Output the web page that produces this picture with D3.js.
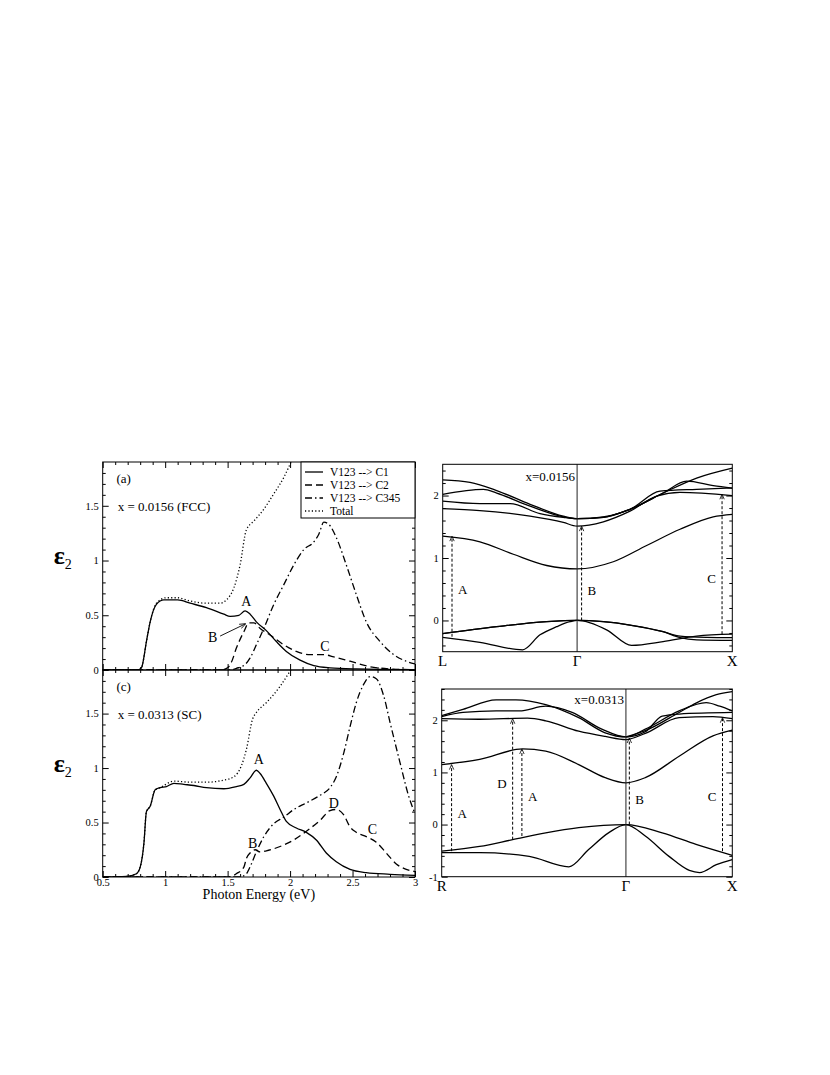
<!DOCTYPE html>
<html>
<head>
<meta charset="utf-8">
<script src="https://cdn.jsdelivr.net/npm/d3@7"></script>
<style>
body { margin: 0; background: #fff; }
svg text { font-family: "Liberation Serif", "Times New Roman", serif; fill: #000; }
</style>
</head>
<body>
<svg id="fig" width="830" height="1075" font-family="Liberation Serif, serif"></svg>
<script>
// ---- eps2 spectra, [photon energy (eV), eps2] ----
// panel (a): x = 0.0156 (FCC)
var a_c1 = [[0.5,0],[0.78,0],[0.81,0.02],[0.85,0.26],[0.88,0.44],[0.93,0.60],[0.99,0.64],[1.10,0.64],[1.20,0.61],[1.33,0.57],[1.47,0.51],[1.52,0.49],[1.59,0.50],[1.64,0.54],[1.68,0.51],[1.73,0.44],[1.81,0.36],[1.89,0.26],[1.97,0.17],[2.08,0.09],[2.19,0.04],[2.32,0.02],[2.53,0.01],[3.0,0.003]];
var a_c2 = [[0.5,0],[1.45,0],[1.50,0.02],[1.53,0.07],[1.57,0.20],[1.63,0.35],[1.67,0.43],[1.71,0.43],[1.76,0.38],[1.84,0.32],[1.95,0.23],[2.05,0.17],[2.16,0.14],[2.27,0.14],[2.35,0.12],[2.48,0.08],[2.64,0.03],[2.8,0.01],[3.0,0.003]];
var a_c345 = [[0.5,0],[1.52,0],[1.57,0.015],[1.64,0.05],[1.68,0.11],[1.73,0.23],[1.79,0.38],[1.87,0.60],[1.95,0.78],[2.03,0.96],[2.11,1.10],[2.19,1.17],[2.23,1.24],[2.27,1.35],[2.31,1.33],[2.37,1.21],[2.45,0.96],[2.53,0.69],[2.61,0.44],[2.72,0.26],[2.83,0.14],[2.93,0.08],[3.0,0.055]];
var a_tot = [[0.5,0],[0.78,0],[0.81,0.02],[0.85,0.26],[0.88,0.44],[0.93,0.61],[1.01,0.66],[1.10,0.66],[1.20,0.63],[1.33,0.61],[1.44,0.61],[1.49,0.64],[1.55,0.75],[1.60,0.96],[1.65,1.28],[1.71,1.36],[1.79,1.47],[1.87,1.61],[1.95,1.76],[2.0,1.88],[2.05,2.0]];
// panel (c): x = 0.0313 (SC)
var c_c1 = [[0.5,0],[0.69,0.005],[0.77,0.03],[0.80,0.09],[0.83,0.31],[0.85,0.60],[0.88,0.65],[0.92,0.80],[0.96,0.82],[1.01,0.83],[1.07,0.86],[1.15,0.85],[1.23,0.84],[1.33,0.82],[1.47,0.81],[1.57,0.83],[1.63,0.85],[1.68,0.91],[1.73,0.98],[1.76,0.95],[1.81,0.86],[1.87,0.74],[1.92,0.62],[1.97,0.51],[2.05,0.45],[2.13,0.41],[2.21,0.34],[2.29,0.22],[2.37,0.14],[2.48,0.07],[2.61,0.04],[2.80,0.025],[3.0,0.015]];
var c_c2 = [[0.5,0],[1.52,0],[1.57,0.03],[1.63,0.09],[1.65,0.17],[1.68,0.22],[1.72,0.25],[1.76,0.23],[1.81,0.24],[1.92,0.28],[2.03,0.34],[2.13,0.42],[2.24,0.52],[2.32,0.61],[2.37,0.62],[2.43,0.57],[2.48,0.46],[2.53,0.41],[2.61,0.37],[2.69,0.32],[2.77,0.22],[2.85,0.12],[2.93,0.07],[3.0,0.05]];
var c_c345 = [[0.5,0],[1.6,0],[1.65,0.03],[1.69,0.12],[1.73,0.23],[1.79,0.37],[1.87,0.49],[1.95,0.55],[2.03,0.62],[2.13,0.68],[2.24,0.75],[2.32,0.82],[2.37,0.92],[2.43,1.14],[2.48,1.38],[2.53,1.60],[2.59,1.77],[2.64,1.84],[2.69,1.82],[2.75,1.66],[2.80,1.42],[2.88,1.05],[2.95,0.74],[3.0,0.58]];
var c_tot = [[0.5,0],[0.69,0.005],[0.77,0.03],[0.80,0.09],[0.83,0.31],[0.85,0.60],[0.88,0.65],[0.92,0.80],[0.96,0.82],[1.07,0.88],[1.20,0.87],[1.33,0.87],[1.47,0.89],[1.55,0.92],[1.61,1.02],[1.65,1.17],[1.70,1.45],[1.73,1.51],[1.81,1.60],[1.92,1.75],[2.0,1.89],[2.05,1.98]];

var legend_names = ["V123 --> C1", "V123 --> C2", "V123 --> C345", "Total"];
var energy_ticks = [0.5, 1, 1.5, 2, 2.5, 3];
var eps_ticks = [0, 0.5, 1, 1.5];

// ---- band structures, [k along path, E (eV)] ----
// FCC: L (0) -> Gamma (0.866) -> X (1.866)
var fcc_kpts = [0, 0.866, 1.866];
var fcc_klabels = ["L", "\u0393", "X"];
var fcc_bands = [
  [[0,-0.21],[0.348,-0.10],[0.67,-0.02],[0.866,0],[1.035,-0.02],[1.207,-0.074],[1.42,-0.18],[1.53,-0.275],[1.636,-0.31],[1.866,-0.32]],
  [[0,-0.27],[0.24,-0.35],[0.515,-0.47],[0.627,-0.23],[0.734,-0.10],[0.82,-0.02],[0.866,0],[0.95,-0.037],[1.056,-0.15],[1.217,-0.40],[1.42,-0.34],[1.636,-0.25],[1.866,-0.22]],
  [[0,-0.21],[0.348,-0.10],[0.67,-0.02],[0.866,0],[1.035,-0.02],[1.207,-0.074],[1.42,-0.18],[1.53,-0.25],[1.70,-0.27],[1.866,-0.275]],
  [[0,1.35],[0.24,1.26],[0.455,1.06],[0.67,0.88],[0.866,0.825],[1.099,0.94],[1.314,1.20],[1.529,1.46],[1.743,1.66],[1.866,1.70]],
  [[0,1.79],[0.24,1.76],[0.563,1.67],[0.777,1.57],[0.866,1.51],[1.035,1.58],[1.207,1.75],[1.378,1.99],[1.529,2.05],[1.866,2.0]],
  [[0,1.91],[0.24,1.87],[0.434,1.87],[0.627,1.71],[0.777,1.65],[0.866,1.63],[1.035,1.66],[1.207,1.78],[1.40,2.07],[1.636,2.10],[1.866,2.12]],
  [[0,2.02],[0.262,2.10],[0.348,2.04],[0.563,1.83],[0.777,1.66],[0.866,1.63],[1.035,1.65],[1.207,1.78],[1.42,2.04],[1.572,2.23],[1.743,2.16],[1.866,2.12]],
  [[0,2.25],[0.176,2.21],[0.348,2.08],[0.563,1.86],[0.777,1.67],[0.866,1.63],[1.035,1.65],[1.207,1.78],[1.42,2.04],[1.636,2.28],[1.866,2.44]]
];
// transitions: [k, E from, E to, label, label side]
var fcc_arrows = [[0.06,-0.26,1.35,"A",1],[0.895,0,1.51,"B",1],[1.80,-0.22,2.02,"C",-1]];
var fcc_label_y = [0.49, 0.48, 0.67];

// SC: R (0) -> Gamma (1.732) -> X (2.732)
var sc_kpts = [0, 1.732, 2.732];
var sc_klabels = ["R", "\u0393", "X"];
var sc_bands = [
  [[0,-0.51],[0.357,-0.42],[0.667,-0.29],[0.978,-0.16],[1.288,-0.06],[1.732,0],[2.073,-0.16],[2.391,-0.38],[2.732,-0.59]],
  [[0,-0.54],[0.357,-0.54],[0.823,-0.61],[1.195,-0.81],[1.381,-0.48],[1.568,-0.16],[1.732,0],[1.914,-0.22],[2.137,-0.61],[2.328,-0.88],[2.424,-0.92],[2.582,-0.77],[2.732,-0.67]],
  [[0,1.15],[0.357,1.25],[0.760,1.45],[0.978,1.41],[1.288,1.15],[1.537,0.90],[1.732,0.80],[1.914,0.90],[2.232,1.31],[2.55,1.70],[2.732,1.81]],
  [[0,2.03],[0.357,2.02],[0.807,2.04],[0.978,1.99],[1.288,1.79],[1.537,1.69],[1.732,1.63],[1.914,1.75],[2.232,2.05],[2.55,2.07],[2.732,2.03]],
  [[0,2.07],[0.2,2.15],[0.512,2.18],[0.73,2.18],[0.978,2.27],[1.226,2.15],[1.505,1.83],[1.732,1.68],[1.914,1.78],[2.073,2.08],[2.232,2.12],[2.732,2.15]],
  [[0,2.09],[0.2,2.21],[0.512,2.39],[0.698,2.39],[0.978,2.30],[1.288,2.05],[1.537,1.76],[1.732,1.68],[1.914,1.83],[2.232,2.18],[2.487,2.34],[2.614,2.27],[2.732,2.18]],
  [[1.732,1.68],[1.914,1.80],[2.232,2.15],[2.391,2.33],[2.582,2.49],[2.732,2.55]]
];
var sc_arrows = [[0.093,-0.51,1.15,"A",1],[0.667,-0.29,2.03,"D",-1],[0.754,-0.22,1.45,"A",1],[1.764,0,1.66,"B",1],[2.64,-0.51,2.05,"C",-1]];
var sc_label_y = [0.22, 0.79, 0.54, 0.49, 0.54];

var serif = "Liberation Serif, Times New Roman, serif";
var svg = d3.select("#fig");
svg.append("rect").attr("width", 830).attr("height", 1075).attr("fill", "#fff");

var styles = [
  {dash: null},
  {dash: "7,4"},
  {dash: "7,3,1.5,3"},
  {dash: "1.2,2.2"}
];

// draws one framed box with inward ticks on all four sides
function draw_frame(g, xs, ys, o)
{
	var w = xs.range()[1], h = ys.range()[0];

	function put(axis, tx, ty, vals, size, fmt, pad)
	{
		axis.tickValues(vals).tickSizeInner(-size).tickSizeOuter(0).tickPadding(pad || 4)
			.tickFormat(fmt ? fmt : "");
		var a = g.append("g").attr("transform", "translate(" + tx + "," + ty + ")").call(axis);
		a.select(".domain").remove();
		a.attr("font-family", serif).attr("font-size", 10.5);
		a.selectAll("line").attr("stroke", "#000");
	}
	if (o.xMajor) {
		put(d3.axisBottom(xs), 0, h, o.xMinor, 3, null);
		put(d3.axisBottom(xs), 0, h, o.xMajor, 6, o.xLabels ? function(d){ return d; } : null, 2);
		put(d3.axisTop(xs), 0, 0, o.xMinor, 3, null);
		put(d3.axisTop(xs), 0, 0, o.xMajor, 6, null);
	}
	put(d3.axisLeft(ys), 0, 0, o.yMinor, 3, null);
	put(d3.axisLeft(ys), 0, 0, o.yMajor, 6, function(d){ return d; });
	put(d3.axisRight(ys), w, 0, o.yMinor, 3, null);
	put(d3.axisRight(ys), w, 0, o.yMajor, 6, null);

	g.append("rect").attr("width", w).attr("height", h)
		.attr("fill", "none").attr("stroke", "#000").attr("stroke-width", 1);
}

// ---- left: eps2 panels ----
function draw_spectrum(id, left, top, w, h, series, tag, title, notes, showX)
{
	var g = svg.append("g").attr("transform", "translate(" + left + "," + top + ")");
	var xs = d3.scaleLinear().domain([0.5, 3]).range([0, w]);
	var ys = d3.scaleLinear().domain([0, 1.9]).range([h, 0]);

	g.append("clipPath").attr("id", id).append("rect").attr("width", w).attr("height", h);

	var line = d3.line().x(function(d){ return xs(d[0]); }).y(function(d){ return ys(d[1]); })
		.curve(d3.curveMonotoneX);

	var plot = g.append("g").attr("clip-path", "url(#" + id + ")");
	series.forEach(function(s, i) {
		plot.append("path").attr("d", line(s)).attr("fill", "none")
			.attr("stroke", "#000").attr("stroke-width", 1.3)
			.attr("stroke-dasharray", styles[i].dash);
	});

	draw_frame(g, xs, ys, {
		xMajor: energy_ticks, xMinor: d3.range(0.6, 3, 0.1).filter(function(v){ return Math.abs(v*2 - Math.round(v*2)) > 0.01; }),
		yMajor: eps_ticks, yMinor: d3.range(0.1, 1.9, 0.1).filter(function(v){ return Math.abs(v*2 - Math.round(v*2)) > 0.01; }),
		xLabels: showX
	});

	g.append("text").attr("x", xs(0.61)).attr("y", ys(1.75)).attr("dy", "0.35em")
		.attr("font-family", serif).attr("font-size", 13).text(tag);
	g.append("text").attr("x", xs(0.62)).attr("y", ys(1.49)).attr("dy", "0.35em")
		.attr("font-family", serif).attr("font-size", 13).text(title);

	notes.forEach(function(n) {
		g.append("text").attr("x", xs(n[0])).attr("y", ys(n[1])).attr("dy", "0.35em")
			.attr("text-anchor", "middle").attr("font-family", serif).attr("font-size", 14).text(n[2]);
	});

	var eps = g.append("text").attr("x", -49).attr("y", h/2 - 2).attr("font-family", serif)
		.attr("font-size", 26).attr("font-weight", "bold");
	eps.append("tspan").text("\u03b5");
	eps.append("tspan").attr("font-size", 14).attr("font-weight", "normal").attr("dy", 5).text("2");

	return {g: g, xs: xs, ys: ys};
}

var top_panel = draw_spectrum("clipA", 102.7, 462, 312.3, 208, [a_c1, a_c2, a_c345, a_tot],
	"(a)", "x = 0.0156 (FCC)", [[1.65, 0.63, "A"], [1.38, 0.30, "B"], [2.28, 0.22, "C"]], false);
var bot_panel = draw_spectrum("clipC", 102.7, 670, 312.3, 207, [c_c1, c_c2, c_c345, c_tot],
	"(c)", "x = 0.0313 (SC)", [[1.75, 1.085, "A"], [1.70, 0.31, "B"], [2.35, 0.68, "D"], [2.66, 0.44, "C"]], true);

// arrow pointing at peak B in (a)
svg.append("defs").append("marker").attr("id", "head")
	.attr("viewBox", "0 -4 8 8").attr("refX", 7).attr("refY", 0)
	.attr("markerWidth", 7).attr("markerHeight", 7).attr("orient", "auto")
	.append("path").attr("d", "M0,-3L8,0L0,3").attr("fill", "none").attr("stroke", "#000");
top_panel.g.append("line")
	.attr("x1", top_panel.xs(1.44)).attr("y1", top_panel.ys(0.31))
	.attr("x2", top_panel.xs(1.64)).attr("y2", top_panel.ys(0.42))
	.attr("stroke", "#000").attr("stroke-width", 0.9).attr("marker-end", "url(#head)");

bot_panel.g.append("text").attr("x", 312.3/2).attr("y", 229).attr("text-anchor", "middle")
	.attr("font-family", serif).attr("font-size", 14).text("Photon Energy (eV)");

// legend
var lg = top_panel.g.append("g").attr("transform", "translate(198.3,0)");
lg.append("rect").attr("width", 114).attr("height", 56).attr("fill", "#fff")
	.attr("stroke", "#000").attr("stroke-width", 1);
legend_names.forEach(function(name, i) {
	var y = 10 + i * 13;
	lg.append("line").attr("x1", 4).attr("x2", 22).attr("y1", y).attr("y2", y)
		.attr("stroke", "#000").attr("stroke-width", 1.3).attr("stroke-dasharray", styles[i].dash);
	lg.append("text").attr("x", 29).attr("y", y).attr("dy", "0.35em")
		.attr("font-family", serif).attr("font-size", 11.5).text(name);
});

// ---- right: band structures ----
function draw_bands(id, left, top, w, h, kpts, klabels, ydom, yMajor, bands, arrows, labelY, note, noteY)
{
	var g = svg.append("g").attr("transform", "translate(" + left + "," + top + ")");
	var xs = d3.scaleLinear().domain([kpts[0], kpts[2]]).range([0, w]);
	var ys = d3.scaleLinear().domain(ydom).range([h, 0]);

	g.append("clipPath").attr("id", id).append("rect").attr("width", w).attr("height", h);
	var plot = g.append("g").attr("clip-path", "url(#" + id + ")");

	var line = d3.line().x(function(d){ return xs(d[0]); }).y(function(d){ return ys(d[1]); })
		.curve(d3.curveMonotoneX);
	bands.forEach(function(b) {
		plot.append("path").attr("d", line(b)).attr("fill", "none")
			.attr("stroke", "#000").attr("stroke-width", 1.3);
	});

	// Gamma line
	g.append("line").attr("x1", xs(kpts[1])).attr("x2", xs(kpts[1])).attr("y1", 0).attr("y2", h)
		.attr("stroke", "#222").attr("stroke-width", 1);

	arrows.forEach(function(a, i) {
		var x = xs(a[0]), y0 = ys(a[1]), y1 = ys(a[2]);
		g.append("line").attr("x1", x).attr("x2", x).attr("y1", y0).attr("y2", y1 + 1)
			.attr("stroke", "#000").attr("stroke-width", 1).attr("stroke-dasharray", "3,2");
		g.append("path").attr("d", "M" + (x - 2.2) + "," + (y1 + 5) + "L" + x + "," + y1 + "L" + (x + 2.2) + "," + (y1 + 5))
			.attr("fill", "none").attr("stroke", "#000").attr("stroke-width", 0.8);
		g.append("text").attr("x", x + a[4] * 6).attr("y", ys(labelY[i])).attr("dy", "0.35em")
			.attr("text-anchor", a[4] > 0 ? "start" : "end").attr("font-family", serif)
			.attr("font-size", 13).text(a[3]);
	});

	var minor = d3.ticks(ydom[0], ydom[1], Math.round((ydom[1] - ydom[0]) / 0.2))
		.filter(function(v){ return Math.abs(v - Math.round(v)) > 0.01; });
	draw_frame(g, xs, ys, {yMajor: yMajor, yMinor: minor});

	kpts.forEach(function(k, i) {
		g.append("text").attr("x", xs(k)).attr("y", h + 14).attr("text-anchor", "middle")
			.attr("font-family", serif).attr("font-size", 15).text(klabels[i]);
	});

	g.append("text").attr("x", xs(kpts[1]) - 2).attr("y", ys(noteY)).attr("dy", "0.35em")
		.attr("text-anchor", "end").attr("font-family", serif).attr("font-size", 13).text(note);
}

draw_bands("clipB", 442.7, 464.3, 289.6, 187.4, fcc_kpts, fcc_klabels, [-0.5, 2.5], [0, 1, 2],
	fcc_bands, fcc_arrows, fcc_label_y, "x=0.0156", 2.31);
draw_bands("clipD", 441.7, 689, 290.6, 187.7, sc_kpts, sc_klabels, [-1, 2.6], [-1, 0, 1, 2],
	sc_bands, sc_arrows, sc_label_y, "x=0.0313", 2.40);
</script>
</body>
</html>
